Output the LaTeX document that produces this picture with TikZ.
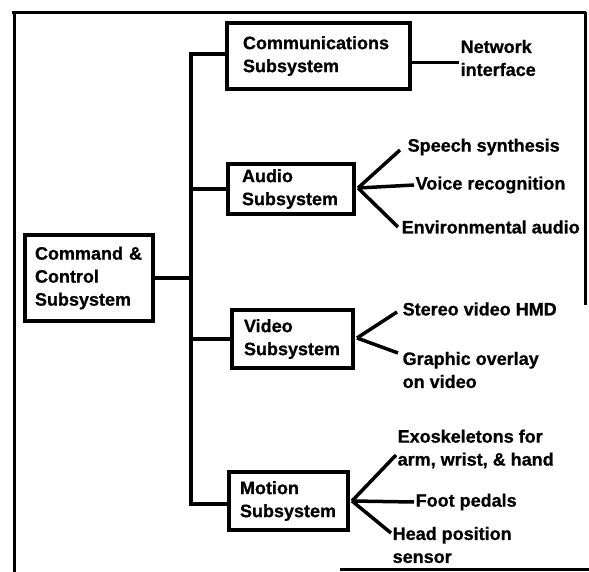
\documentclass[tikz,border=0pt]{standalone}
\usepackage{fontspec}
\setmainfont{Liberation Sans}[BoldFeatures={FakeBold=0.8}]
\begin{document}
\begin{tikzpicture}[x=1pt,y=-1pt,
  txt/.style={font=\bfseries\fontsize{18}{23}\selectfont},
  box/.style={txt,draw,line width=4pt,align=left,inner ysep=0pt},
  lbl/.style={txt,align=left,inner sep=1.5pt,anchor=west},
  conn/.style={line width=4pt,line join=miter},
  fan/.style={line width=3.5pt},
  frameline/.style={line width=3pt}]
\useasboundingbox (0,0) rectangle (589,572);
% outer frame (partial, as scanned)
\draw[frameline] (12,13) -- (586,13);
\draw[frameline] (14,12) -- (14,572);
\draw[frameline] (585,12) -- (585,305);
\draw[frameline] (340,569) -- (589,569);
% boxes
\node[box,inner xsep=16pt,text width=151pt,minimum height=66pt] (comm) at (318.5,56) {Communications\\Subsystem};
\node[box,inner xsep=14pt,text width=98pt,minimum height=50pt] (audio) at (291,189) {Audio\\Subsystem};
\node[box,inner xsep=10pt,text width=108pt,minimum height=86pt] (cc) at (89,278) {Command \&\\Control\\Subsystem};
\node[box,inner xsep=12pt,text width=97pt,minimum height=58pt] (video) at (292.5,339) {Video\\Subsystem};
\node[box,inner xsep=11pt,text width=97pt,minimum height=58pt] (motion) at (288.5,501) {Motion\\Subsystem};
% trunk
\coordinate (ttop) at (191,54);
\coordinate (tbot) at (191,504);
\draw[conn] (comm.west |- ttop) -- (ttop) -- (tbot) -- (motion.west |- tbot);
\draw[conn] (cc.east) -- (cc.east -| ttop);
\draw[conn] (audio.west -| ttop) -- (audio.west);
\draw[conn] (video.west -| ttop) -- (video.west);
% leaf labels
\node[lbl] (net) at (459,58) {Network\\interface};
\node[lbl] (ss) at (406,147) {Speech synthesis};
\node[lbl] (vr) at (414,185) {Voice recognition};
\node[lbl] (ea) at (400,227) {Environmental audio};
\node[lbl] (sv) at (401,309) {Stereo video HMD};
\node[lbl] (go) at (401,370) {Graphic overlay\\on video};
\node[lbl] (exo) at (396,449) {Exoskeletons for\\arm, wrist, \& hand};
\node[lbl] (fp) at (414,502) {Foot pedals};
\node[lbl] (hp) at (391,545) {Head position\\sensor};
% leaf connectors
\coordinate (nA) at ([yshift=-5pt]net.west);
\draw[fan,line width=3pt] (nA -| comm.east) -- (nA);
\coordinate (aA) at ([xshift=2pt,yshift=1pt]audio.east);
\draw[fan] (aA) -- ([xshift=-6pt,yshift=-3pt]ss.west);
\draw[fan] (aA) -- (vr.west);
\draw[fan] (aA) -- ([xshift=-2pt]ea.west);
\coordinate (vA) at ([xshift=2pt,yshift=1pt]video.east);
\draw[fan] (vA) -- ([xshift=-4pt,yshift=-3pt]sv.west);
\draw[fan] (vA) -- ([xshift=-3pt,yshift=17pt]go.west);
\coordinate (mA) at ([xshift=2pt]motion.east);
\draw[fan] (mA) -- ([yshift=-6pt]exo.west);
\draw[fan] (mA) -- (fp.west);
\draw[fan] (mA) -- ([yshift=12pt]hp.west);
\end{tikzpicture}
\end{document}
